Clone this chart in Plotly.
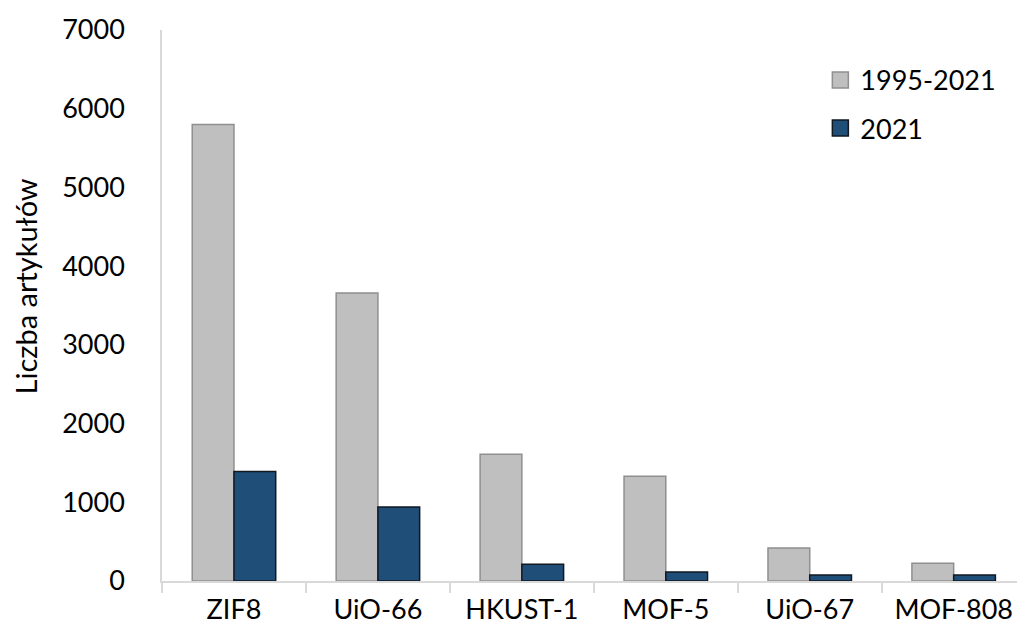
import plotly.graph_objects as go

# Number of articles per metal-organic framework
materials = ["ZIF8", "UiO-66", "HKUST-1", "MOF-5", "UiO-67", "MOF-808"]
total_1995_2021 = [5800, 3660, 1610, 1330, 420, 225]
only_2021 = [1390, 940, 212, 115, 76, 76]
series_names = ["1995-2021", "2021"]
y_title = "Liczba artykułów"

FONT = "Lato"
GREY = dict(color="#bfbfbf", line=dict(color="#8f8f8f", width=1.5))
BLUE = dict(color="#1f4e79", line=dict(color="#111820", width=1.5))

fig = go.Figure()
fig.add_trace(go.Bar(x=materials, y=total_1995_2021, name=series_names[0],
                     marker=GREY, showlegend=False))
fig.add_trace(go.Bar(x=materials, y=only_2021, name=series_names[1],
                     marker=BLUE, showlegend=False))

# Legend entries with larger square swatches
for name, style in zip(series_names, [GREY, BLUE]):
    fig.add_trace(go.Scatter(
        x=[None], y=[None], mode="markers", name=name, legendgroup=name,
        marker=dict(symbol="square", size=16, color=style["color"],
                    line=dict(color=style["line"]["color"], width=1.5)),
    ))

fig.update_layout(
    width=1017, height=636,
    margin=dict(l=162, r=0, t=30, b=55),
    paper_bgcolor="white", plot_bgcolor="white",
    barmode="group", bargap=0.42, bargroupgap=0,
    font=dict(family=FONT, size=27, color="#000000"),
    showlegend=True,
    legend=dict(
        x=0.77, y=0.953, xanchor="left", yanchor="top",
        bgcolor="rgba(0,0,0,0)", font=dict(size=27),
        tracegroupgap=10, itemwidth=30, itemsizing="trace",
    ),
)
fig.update_xaxes(
    range=[-0.5, 5.44],
    showline=True, linecolor="#d9d9d9", linewidth=1.5,
    ticks="outside", tickson="boundaries", ticklen=10, tickcolor="#d9d9d9",
    tickwidth=1.5, ticklabelstandoff=4,
    showgrid=False, zeroline=False,
)
fig.update_yaxes(
    range=[0, 7000], tickvals=[0, 1000, 2000, 3000, 4000, 5000, 6000, 7000],
    showline=True, linecolor="#d9d9d9", linewidth=1.5,
    ticks="", ticklabelstandoff=30,
    showgrid=False, zeroline=False,
)

# Vertical y-axis title
fig.add_annotation(
    text=y_title, textangle=-90, showarrow=False,
    xref="paper", yref="paper", x=-0.160, y=0.535,
    xanchor="center", yanchor="middle",
    font=dict(family=FONT, size=29, color="#000000"),
)

fig.write_html("out.html")
